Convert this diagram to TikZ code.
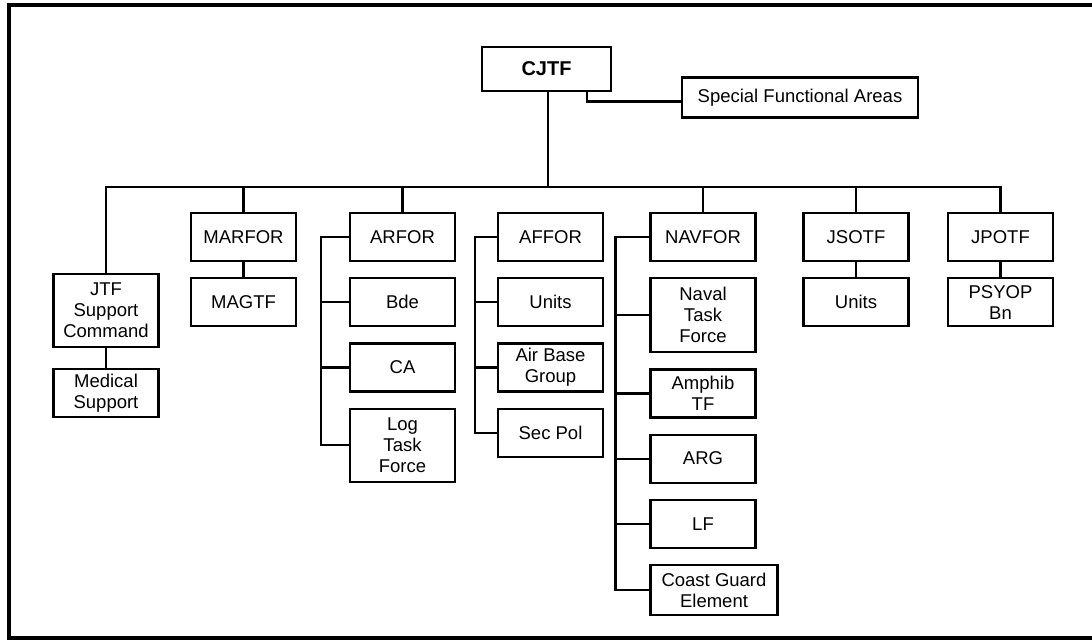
\documentclass[tikz,border=0pt]{standalone}
\usepackage{fontspec}
\setmainfont{Liberation Sans}
\usepackage{tikz}
\usetikzlibrary{positioning}
\tikzstyle{unit} = [rectangle,fill=white,draw=black,line width=2.2pt,
inner sep=3pt, minimum width=105pt, minimum height=48pt, align=center,
font=\fontsize{18.5}{21}\selectfont]
\tikzstyle{tall} = [minimum height=73pt]
\tikzstyle{cmd} = [font=\fontsize{20}{24}\selectfont\bfseries]
\tikzstyle{link} = [draw=black,line width=2.2pt]
\tikzstyle{frame} = [draw=black,line width=3.5pt]
\newcommand{\sidebus}[3]{ %
  % Hang all nodes #3 off a rail that runs #1 left of node #2.
  \foreach \m in {#3} { %
    \draw[link] (#2.west) -- ([xshift=-#1]#2.west) |- (\m.west) ; %
  } ;
}
\begin{document}
\begin{tikzpicture}[x=1pt,y=-1pt,node distance=15pt]

	\useasboundingbox (0,0) rectangle (1092,643);
	\draw[frame] (1092,5) -- (9,5) -- (9,638) -- (1092,638);

	% command level
	\node[unit, cmd, minimum width=129pt, minimum height=44pt] (cjtf) at (546.5,69) {CJTF};
	\node[unit, minimum width=236pt, minimum height=40pt] (sfa) at (800,97.5) {Special Functional Areas};
	\coordinate (bus) at (548,187);

	% components
	\node[unit, tall] (jtfSupport) at (106,310.5) {JTF\\Support\\Command};
	\node[unit] (marfor) at (243.5,237) {MARFOR};
	\node[unit] (arfor)  at (402.5,237) {ARFOR};
	\node[unit] (affor)  at (550.5,237) {AFFOR};
	\node[unit] (navfor) at (703,237)   {NAVFOR};
	\node[unit] (jsotf)  at (856,237)   {JSOTF};
	\node[unit] (jpotf)  at (1000.5,237) {JPOTF};

	% subordinate units
	\node[unit, below=20pt of jtfSupport] (medical) {Medical\\Support};
	\node[unit, below=of marfor] (magtf) {MAGTF};

	\node[unit, below=of arfor] (bde) {Bde};
	\node[unit, below=of bde] (ca) {CA};
	\node[unit, tall, below=of ca] (logTask) {Log\\Task\\Force};

	\node[unit, below=of affor] (unitsAf) {Units};
	\node[unit, below=of unitsAf] (airBase) {Air Base\\Group};
	\node[unit, below=of airBase] (secPol) {Sec Pol};

	\node[unit, minimum height=74pt, below=of navfor] (navalTask) {Naval\\Task\\Force};
	\node[unit, below=of navalTask] (amphib) {Amphib\\TF};
	\node[unit, below=of amphib] (arg) {ARG};
	\node[unit, below=of arg] (lf) {LF};
	\node[unit, minimum width=127pt, minimum height=50pt,
	  below=15pt of lf.south west, anchor=north west] (coastGuard) {Coast Guard\\Element};

	\node[unit, below=of jsotf] (unitsSo) {Units};
	\node[unit, below=of jpotf] (psyop) {PSYOP\\Bn};

	% connectors
	\draw[link] ([xshift=-25pt]cjtf.south east) |- ([yshift=-4pt]sfa.west);
	\draw[link] (cjtf.south -| bus) -- (bus);
	\draw[link] (jtfSupport.north) |- (bus) -| (jpotf.north);
	\foreach \c in {marfor, arfor, navfor, jsotf} {
	  \draw[link] (\c.north) -- (\c.north |- bus);
	}

	\draw[link] (jtfSupport) -- (medical);
	\draw[link] (marfor) -- (magtf);
	\draw[link] (jsotf) -- (unitsSo);
	\draw[link] (jpotf) -- (psyop);

	\sidebus {28pt} {arfor} {bde, ca, logTask};
	\sidebus {22pt} {affor} {unitsAf, airBase, secPol};
	\sidebus {34pt} {navfor} {navalTask, amphib, arg, lf, coastGuard};

\end{tikzpicture}
\end{document}
